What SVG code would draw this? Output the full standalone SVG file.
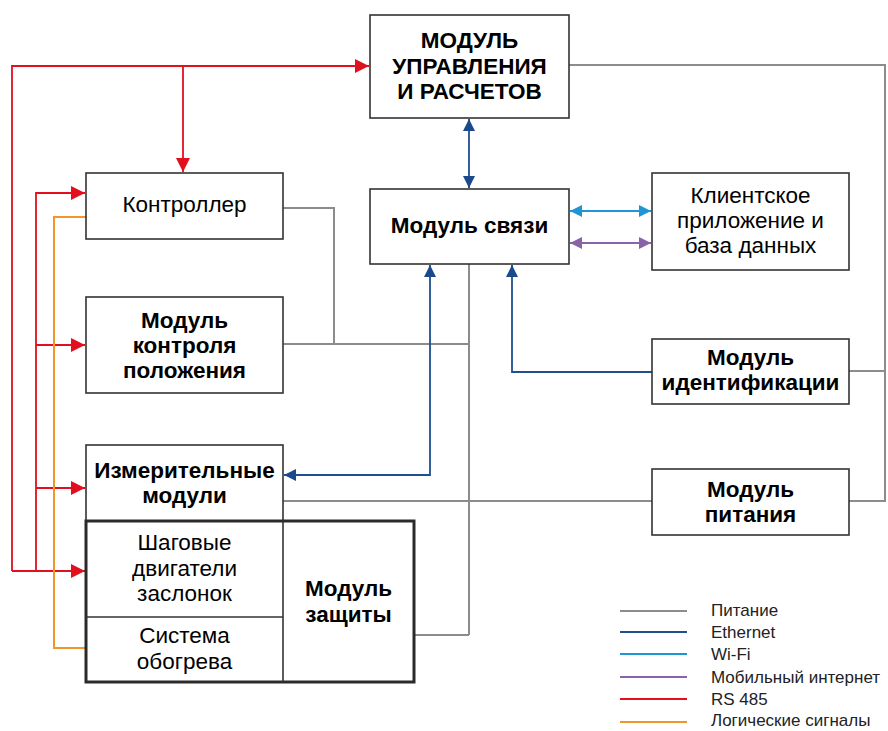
<svg xmlns="http://www.w3.org/2000/svg" width="888" height="731" viewBox="0 0 888 731">
<style>
.box{fill:#fff;stroke:#333;stroke-width:1.6}
.thick{fill:none;stroke:#2a2a2a;stroke-width:3}
text{font-family:"Liberation Sans",Arial,sans-serif;font-size:22.5px;fill:#000;text-anchor:middle}
.b{font-weight:bold}
.lg{font-size:17px;text-anchor:start;fill:#222}
.gray{fill:none;stroke:#8c8c8c;stroke-width:2}
.eth{fill:none;stroke:#1f4f8f;stroke-width:1.8}
.wifi{fill:none;stroke:#1f95d4;stroke-width:2}
.mob{fill:none;stroke:#8a62a8;stroke-width:2}
.red{fill:none;stroke:#e2101e;stroke-width:1.8}
.org{fill:none;stroke:#f3962a;stroke-width:2}
</style>
<defs>
<marker id="ar" markerUnits="userSpaceOnUse" markerWidth="16" markerHeight="16" refX="14" refY="8" orient="auto"><path d="M0,1 L14,8 L0,15 Z" fill="#e2101e"/></marker>
<marker id="ae" markerUnits="userSpaceOnUse" markerWidth="14" markerHeight="14" refX="12" refY="7" orient="auto-start-reverse"><path d="M0,1 L12,7 L0,13 Z" fill="#1a4a8c"/></marker>
<marker id="aw" markerUnits="userSpaceOnUse" markerWidth="14" markerHeight="14" refX="12" refY="7" orient="auto-start-reverse"><path d="M0,1 L12,7 L0,13 Z" fill="#1f95d4"/></marker>
<marker id="am" markerUnits="userSpaceOnUse" markerWidth="14" markerHeight="14" refX="12" refY="7" orient="auto-start-reverse"><path d="M0,1 L12,7 L0,13 Z" fill="#8a62a8"/></marker>
</defs>
<g id="connectors">
<polyline class="gray" points="569,65 885,65 885,501 849,501"/>
<line class="gray" x1="849" y1="371" x2="885" y2="371"/>
<polyline class="gray" points="283,208 334,208 334,344"/>
<line class="gray" x1="283" y1="344" x2="469" y2="344"/>
<line class="gray" x1="469" y1="264" x2="469" y2="635"/>
<line class="gray" x1="283" y1="501" x2="652" y2="501"/>
<line class="gray" x1="414" y1="635" x2="469" y2="635"/>
<line class="eth" x1="469" y1="119" x2="469" y2="188" marker-start="url(#ae)" marker-end="url(#ae)"/>
<polyline class="eth" points="430,265 430,475 284,475" marker-start="url(#ae)" marker-end="url(#ae)"/>
<polyline class="eth" points="652,372 512,372 512,265" marker-end="url(#ae)"/>
<line class="wifi" x1="570" y1="211" x2="651" y2="211" marker-start="url(#aw)" marker-end="url(#aw)"/>
<line class="mob" x1="570" y1="243" x2="651" y2="243" marker-start="url(#am)" marker-end="url(#am)"/>
<polyline class="red" points="12,571 12,66 369,66" marker-end="url(#ar)"/>
<line class="red" x1="183" y1="66" x2="183" y2="172" marker-end="url(#ar)"/>
<polyline class="red" points="36,571 36,193 85,193" marker-end="url(#ar)"/>
<line class="red" x1="12" y1="571" x2="85" y2="571" marker-end="url(#ar)"/>
<line class="red" x1="36" y1="345" x2="85" y2="345" marker-end="url(#ar)"/>
<line class="red" x1="36" y1="488" x2="85" y2="488" marker-end="url(#ar)"/>
<polyline class="org" points="86,217 54,217 54,648 86,648"/>
</g>
<g id="upravlenie"><rect class="box" x="370" y="15" width="199" height="103"/>
<text class="b" x="469.5" y="48">МОДУЛЬ</text><text class="b" x="469.5" y="74">УПРАВЛЕНИЯ</text><text class="b" x="469.5" y="99">И РАСЧЕТОВ</text></g>
<g id="svyaz"><rect class="box" x="370" y="189" width="199" height="75"/><text class="b" x="469.5" y="233">Модуль связи</text></g>
<g id="klient"><rect class="box" x="652" y="173" width="197" height="97"/>
<text x="750.5" y="203">Клиентское</text><text x="750.5" y="228">приложение и</text><text x="750.5" y="253">база данных</text></g>
<g id="kontroller"><rect class="box" x="86" y="173" width="197" height="66"/><text x="184.5" y="212">Контроллер</text></g>
<g id="kontrol"><rect class="box" x="86" y="297" width="197" height="96"/>
<text class="b" x="184.5" y="328">Модуль</text><text class="b" x="184.5" y="353">контроля</text><text class="b" x="184.5" y="378">положения</text></g>
<g id="ident"><rect class="box" x="652" y="339" width="197" height="65"/>
<text class="b" x="750.5" y="365">Модуль</text><text class="b" x="750.5" y="390">идентификации</text></g>
<g id="izmer"><rect class="box" x="86" y="445" width="197" height="76"/>
<text class="b" x="184.5" y="478">Измерительные</text><text class="b" x="184.5" y="503">модули</text></g>
<g id="pitanie"><rect class="box" x="652" y="469" width="197" height="66"/>
<text class="b" x="750.5" y="497">Модуль</text><text class="b" x="750.5" y="522">питания</text></g>
<g id="zashchita">
<rect class="thick" x="86" y="521" width="328" height="161"/>
<line x1="283" y1="521" x2="283" y2="682" stroke="#333" stroke-width="1.6"/>
<line x1="86" y1="617" x2="283" y2="617" stroke="#333" stroke-width="1.6"/>
<text class="b" x="348.5" y="596">Модуль</text><text class="b" x="348.5" y="622">защиты</text></g>
<g id="shag"><text x="184.5" y="550">Шаговые</text><text x="184.5" y="576">двигатели</text><text x="184.5" y="601">заслонок</text></g>
<g id="obogrev"><text x="184.5" y="643">Система</text><text x="184.5" y="669">обогрева</text></g>
<g id="legend">
<line class="gray" x1="620" y1="611" x2="687" y2="611"/><text class="lg" x="711" y="616">Питание</text>
<line class="eth" x1="620" y1="632" x2="687" y2="632"/><text class="lg" x="711" y="638">Ethernet</text>
<line class="wifi" x1="620" y1="654" x2="687" y2="654"/><text class="lg" x="711" y="660">Wi-Fi</text>
<line class="mob" x1="620" y1="677" x2="687" y2="677"/><text class="lg" x="711" y="683">Мобильный интернет</text>
<line class="red" x1="620" y1="699" x2="687" y2="699"/><text class="lg" x="711" y="705">RS 485</text>
<line class="org" x1="620" y1="722" x2="687" y2="722"/><text class="lg" x="711" y="726">Логические сигналы</text>
</g>
</svg>
